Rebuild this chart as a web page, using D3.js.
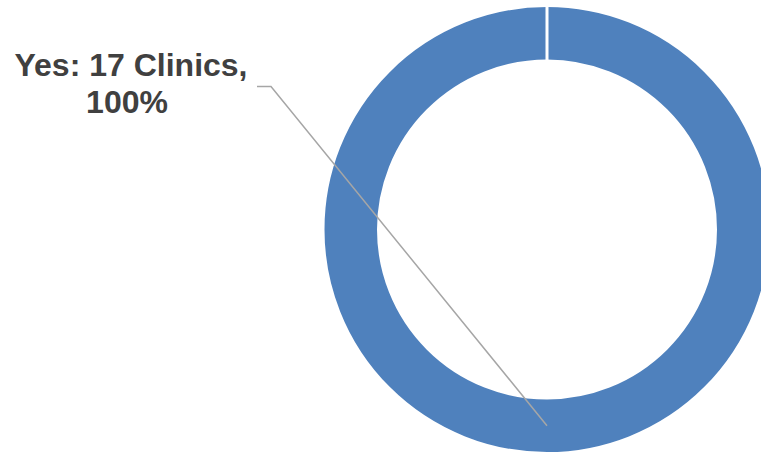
<!DOCTYPE html>
<html>
<head>
<meta charset="utf-8">
<script src="https://cdn.jsdelivr.net/npm/d3@7"></script>
<style>
  body { margin: 0; background: #fff; }
  svg { display: block; }
  .label { font-family: "Liberation Sans", Arial, sans-serif; font-weight: bold; font-size: 32px; fill: #404040; }
</style>
</head>
<body>
<div id="chart-doughnut"></div>
<script>
var categories = ['Yes', 'No'];
var clinics = [17, 0];
var percents = [100, 0];

var width = 761;
var height = 453;
var cx = 547;
var cy = 229.5;
var outerR = 224;
var innerR = 168.5;

var dataset = categories.map(function (c, i) {
    return { label: c, count: clinics[i], percent: percents[i] };
});

var svg = d3.select('#chart-doughnut')
    .append('svg')
    .attr('width', width)
    .attr('height', height);

var g = svg.append('g')
    .attr('transform', 'translate(' + cx + ',' + cy + ')');

var pie = d3.pie()
    .value(function (d) { return d.count; })
    .sort(null);

var arc = d3.arc()
    .innerRadius(innerR)
    .outerRadius(outerR);

var labelArc = d3.arc()
    .innerRadius((innerR + outerR) / 2)
    .outerRadius((innerR + outerR) / 2);

var slices = pie(dataset);

g.selectAll('path.slice')
    .data(slices)
    .enter()
    .append('path')
    .attr('class', 'slice')
    .attr('d', arc)
    .attr('fill', '#4f81bd')
    .attr('stroke', '#fff')
    .attr('stroke-width', 3);

// label for the Yes slice with a leader line
var yes = slices[0];
var c = labelArc.centroid(yes);
var tip = [cx + c[0], cy + c[1]];

svg.append('polyline')
    .attr('points', [[257, 86.5], [271, 86.5], tip].map(function (p) { return p.join(','); }).join(' '))
    .attr('fill', 'none')
    .attr('stroke', '#a6a6a6')
    .attr('stroke-width', 1.5);

var text = svg.append('text')
    .attr('class', 'label')
    .attr('text-anchor', 'middle');

text.append('tspan')
    .attr('x', 131)
    .attr('y', 76)
    .text(yes.data.label + ': ' + yes.data.count + ' Clinics,');

text.append('tspan')
    .attr('x', 127)
    .attr('y', 113)
    .text(yes.data.percent + '%');
</script>
</body>
</html>
